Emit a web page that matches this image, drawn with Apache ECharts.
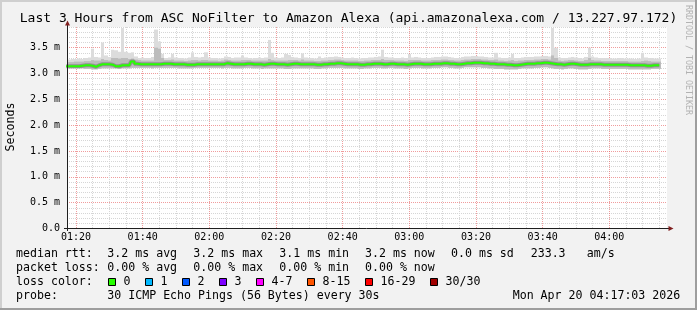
<!DOCTYPE html>
<html><head><meta charset="utf-8">
<script src="https://cdn.jsdelivr.net/npm/echarts@6/dist/echarts.min.js"></script>
<style>html,body{margin:0;padding:0;background:#f2f2f2}#c{width:697px;height:310px}</style>
</head><body><div id="c"></div><script>
// ---- data (one sample per minute, minutes after 01:00, first sample 01:17) ----
const START_MIN = 17, STEP_MIN = 1;
const median = [
3.14,3.14,3.14,3.14,3.14,3.15,3.16,3.16,3.15,3.13,
3.16,3.18,3.18,3.18,3.17,3.14,3.14,3.16,3.16,3.16,
3.23,3.19,3.18,3.18,3.18,3.18,3.18,3.18,3.18,3.19,
3.19,3.19,3.18,3.18,3.18,3.18,3.17,3.17,3.17,3.18,
3.18,3.18,3.18,3.18,3.18,3.18,3.18,3.18,3.20,3.19,
3.18,3.18,3.18,3.18,3.19,3.19,3.18,3.18,3.18,3.17,
3.18,3.19,3.19,3.18,3.18,3.18,3.17,3.18,3.19,3.19,
3.18,3.18,3.18,3.18,3.18,3.17,3.17,3.18,3.18,3.19,
3.19,3.20,3.20,3.19,3.18,3.18,3.18,3.18,3.17,3.17,
3.18,3.18,3.19,3.19,3.19,3.18,3.18,3.19,3.19,3.18,
3.18,3.18,3.17,3.18,3.19,3.19,3.19,3.18,3.18,3.18,
3.19,3.19,3.19,3.20,3.20,3.19,3.19,3.18,3.18,3.19,
3.20,3.20,3.21,3.21,3.21,3.20,3.20,3.19,3.19,3.18,
3.18,3.18,3.17,3.17,3.16,3.16,3.17,3.18,3.19,3.19,
3.19,3.20,3.20,3.21,3.21,3.20,3.19,3.18,3.18,3.17,
3.18,3.19,3.19,3.18,3.17,3.17,3.17,3.18,3.18,3.18,
3.18,3.17,3.17,3.17,3.17,3.17,3.17,3.17,3.17,3.16,
3.16,3.16,3.16,3.16,3.15,3.15,3.16,3.16,3.16];
const low = [
3.10,3.10,3.10,3.10,3.10,3.10,3.09,3.09,3.08,3.08,
3.09,3.10,3.10,3.10,3.10,3.10,3.09,3.10,3.10,3.10,
3.11,3.11,3.11,3.11,3.11,3.11,3.10,3.11,3.11,3.11,
3.11,3.11,3.11,3.11,3.10,3.10,3.10,3.10,3.10,3.11,
3.11,3.11,3.11,3.11,3.11,3.11,3.11,3.10,3.11,3.11,
3.10,3.10,3.10,3.10,3.11,3.11,3.10,3.10,3.10,3.09,
3.10,3.10,3.10,3.10,3.10,3.10,3.09,3.09,3.10,3.10,
3.10,3.10,3.10,3.10,3.10,3.09,3.09,3.10,3.10,3.11,
3.11,3.11,3.11,3.11,3.10,3.10,3.10,3.10,3.09,3.09,
3.10,3.10,3.11,3.11,3.11,3.10,3.10,3.11,3.11,3.10,
3.10,3.10,3.09,3.10,3.11,3.11,3.11,3.10,3.10,3.10,
3.11,3.11,3.11,3.12,3.12,3.11,3.11,3.10,3.10,3.11,
3.12,3.12,3.12,3.12,3.12,3.11,3.11,3.10,3.10,3.09,
3.09,3.09,3.08,3.08,3.08,3.08,3.09,3.10,3.10,3.10,
3.10,3.11,3.11,3.12,3.12,3.11,3.10,3.09,3.09,3.08,
3.09,3.10,3.10,3.09,3.08,3.08,3.08,3.09,3.10,3.10,
3.10,3.09,3.09,3.09,3.09,3.09,3.09,3.09,3.09,3.08,
3.08,3.08,3.08,3.08,3.08,3.08,3.09,3.09,3.09];
const high = [
3.22,3.22,3.22,3.23,3.23,3.23,3.24,3.24,3.26,3.25,
3.25,3.28,3.26,3.25,3.30,3.30,3.29,3.30,3.30,3.28,
3.29,3.27,3.26,3.25,3.25,3.25,3.25,3.50,3.48,3.30,
3.26,3.26,3.27,3.25,3.25,3.25,3.24,3.25,3.26,3.26,
3.25,3.26,3.26,3.25,3.25,3.25,3.24,3.25,3.27,3.26,
3.25,3.25,3.25,3.26,3.26,3.26,3.25,3.25,3.25,3.25,
3.25,3.28,3.26,3.25,3.25,3.25,3.25,3.26,3.26,3.26,
3.25,3.27,3.25,3.25,3.25,3.24,3.24,3.25,3.25,3.26,
3.26,3.27,3.27,3.26,3.25,3.25,3.25,3.25,3.24,3.24,
3.25,3.25,3.26,3.26,3.26,3.28,3.26,3.26,3.26,3.25,
3.25,3.25,3.24,3.26,3.26,3.26,3.26,3.25,3.25,3.25,
3.26,3.26,3.26,3.27,3.27,3.26,3.26,3.25,3.25,3.26,
3.27,3.27,3.28,3.28,3.28,3.27,3.27,3.26,3.26,3.27,
3.25,3.25,3.24,3.25,3.26,3.24,3.25,3.25,3.26,3.26,
3.26,3.27,3.27,3.28,3.28,3.27,3.35,3.30,3.25,3.24,
3.25,3.26,3.26,3.25,3.24,3.24,3.26,3.30,3.26,3.25,
3.25,3.24,3.24,3.24,3.24,3.24,3.24,3.24,3.24,3.23,
3.23,3.23,3.23,3.24,3.25,3.24,3.23,3.23,3.23];
const peak = [
3.27,3.27,3.28,3.28,3.29,3.28,3.30,3.31,3.48,3.32,
3.31,3.60,3.35,3.32,3.46,3.45,3.42,3.88,3.42,3.40,
3.41,3.33,3.30,3.31,3.30,3.30,3.32,3.85,3.62,3.38,
3.30,3.31,3.38,3.31,3.30,3.30,3.29,3.31,3.41,3.32,
3.31,3.32,3.41,3.31,3.30,3.30,3.29,3.30,3.33,3.32,
3.30,3.31,3.31,3.35,3.31,3.30,3.29,3.30,3.31,3.30,
3.31,3.65,3.40,3.31,3.30,3.31,3.38,3.36,3.32,3.31,
3.30,3.39,3.31,3.30,3.30,3.29,3.33,3.30,3.31,3.32,
3.32,3.33,3.32,3.31,3.30,3.30,3.31,3.30,3.29,3.30,
3.30,3.31,3.31,3.32,3.33,3.46,3.32,3.31,3.31,3.30,
3.30,3.31,3.30,3.38,3.31,3.32,3.31,3.30,3.30,3.30,
3.31,3.32,3.32,3.33,3.33,3.32,3.31,3.30,3.30,3.32,
3.33,3.33,3.34,3.34,3.33,3.33,3.32,3.31,3.31,3.40,
3.31,3.30,3.30,3.31,3.38,3.30,3.30,3.31,3.32,3.32,
3.32,3.33,3.33,3.34,3.34,3.33,3.88,3.50,3.31,3.30,
3.30,3.31,3.32,3.31,3.30,3.29,3.32,3.50,3.33,3.31,
3.30,3.30,3.30,3.30,3.29,3.29,3.30,3.30,3.29,3.29,
3.29,3.28,3.29,3.40,3.31,3.30,3.30,3.29,3.29];

const xTickValues = [20,40,60,80,100,120,140,160,180];
const xTickLabels = ['01:20','01:40','02:00','02:20','02:40','03:00','03:20','03:40','04:00'];
const yTickValues = [0,0.5,1,1.5,2,2.5,3,3.5];
const yTickLabels = ['0.0','0.5 m','1.0 m','1.5 m','2.0 m','2.5 m','3.0 m','3.5 m'];
const lossLabels = ['0','1','2','3','4-7','8-15','16-29','30/30'];
const lossColors = ['#26ff00','#00b8ff','#0059ff','#7e00ff','#ff00ff','#ff5500','#ff0000','#a10000'];
const rttStats = ['3.2 ms avg','3.2 ms max','3.1 ms min','3.2 ms now','0.0 ms sd','233.3','am/s'];
const lossStats = ['0.00 % avg','0.00 % max','0.00 % min','0.00 % now'];
const titleText = 'Last 3 Hours from ASC NoFilter to Amazon Alexa (api.amazonalexa.com / 13.227.97.172)';
const probeText = '30 ICMP Echo Pings (56 Bytes) every 30s';
const dateText = 'Mon Apr 20 04:17:03 2026';

// ---- layout ----
const X_MIN = 17.3, X_MAX = 197.3, Y_MIN = 0, Y_MAX = 3.9;
const MONO = 'DejaVu Sans Mono, monospace';
const xMinor = []; for (let m = 20; m <= 195; m += 5) if (m % 20 !== 0) xMinor.push(m);
const yMinor = []; for (let k = 1; k <= 39; k++) if (k % 5 !== 0) yMinor.push(k / 10);
const times = median.map((_, i) => START_MIN + i * STEP_MIN);

function band(loArr, hiArr, color, z) {
  return {
    type: 'custom', silent: true, z: z,
    data: times.map((t, i) => [t, loArr[i], hiArr[i]]),
    encode: { x: 0, y: [1, 2] },
    renderItem: (params, api) => {
      const t = api.value(0);
      const a = api.coord([t - STEP_MIN / 2, api.value(2)]);
      const b = api.coord([t + STEP_MIN / 2, api.value(1)]);
      const cs = params.coordSys;
      const x0 = Math.round(Math.max(a[0], cs.x));
      const x1 = Math.round(Math.min(b[0], cs.x + cs.width));
      return { type: 'rect', shape: { x: x0, y: a[1], width: x1 - x0, height: b[1] - a[1] },
               style: { fill: color } };
    }
  };
}

const fontL = '11.6px ' + MONO;
const graphics = [];
function txt(x, y, s, extra) {
  graphics.push(Object.assign({ type: 'text', x: x, y: y, silent: true,
    style: { text: s, font: fontL, fill: '#000', textAlign: 'left', textVerticalAlign: 'middle' } }, extra || {}));
}
// frame
graphics.push({ type: 'rect', shape: { x: 0, y: 0, width: 697, height: 2 }, style: { fill: '#cfcfcf' }, silent: true });
graphics.push({ type: 'rect', shape: { x: 0, y: 0, width: 2, height: 310 }, style: { fill: '#cfcfcf' }, silent: true });
graphics.push({ type: 'rect', shape: { x: 0, y: 308, width: 697, height: 2 }, style: { fill: '#9e9e9e' }, silent: true });
graphics.push({ type: 'rect', shape: { x: 695, y: 0, width: 2, height: 310 }, style: { fill: '#9e9e9e' }, silent: true });
// axis extensions and arrows
graphics.push({ type: 'line', shape: { x1: 67.5, y1: 231, x2: 67.5, y2: 24 }, style: { stroke: '#1f1f1f', lineWidth: 1 }, silent: true, z: 50 });
graphics.push({ type: 'line', shape: { x1: 64, y1: 228.5, x2: 669, y2: 228.5 }, style: { stroke: '#1f1f1f', lineWidth: 1 }, silent: true, z: 50 });
graphics.push({ type: 'polygon', shape: { points: [[65, 25.5], [67.5, 20.5], [70, 25.5]] }, style: { fill: '#801f1f' }, silent: true, z: 51 });
graphics.push({ type: 'polygon', shape: { points: [[668.5, 226], [673.5, 228.5], [668.5, 231]] }, style: { fill: '#801f1f' }, silent: true, z: 51 });
// watermark
graphics.push({ type: 'text', x: 688, y: 60, rotation: -Math.PI / 2, silent: true,
  style: { text: 'RRDTOOL / TOBI OETIKER', font: '8.3px ' + MONO, fill: '#b2b2b2', textAlign: 'center', textVerticalAlign: 'middle' } });
// y name
graphics.push({ type: 'text', x: 10.5, y: 127, rotation: Math.PI / 2, silent: true,
  style: { text: 'Seconds', font: fontL, fill: '#000', textAlign: 'center', textVerticalAlign: 'middle' } });
// legend lines
const rowY = [254.3, 268.3, 282, 296];
const rttX = [107.3, 193.3, 279.3, 365, 451, 530.7, 586.7];
txt(16, rowY[0], 'median rtt:');
rttStats.forEach((s, i) => txt(rttX[i], rowY[0], s));
txt(16, rowY[1], 'packet loss:');
lossStats.forEach((s, i) => txt(rttX[i], rowY[1], s));
txt(16, rowY[2], 'loss color:');
const boxX = [108.5, 145.5, 182.5, 219.5, 256.5, 307.5, 365.5, 430.5];
lossLabels.forEach((s, i) => {
  graphics.push({ type: 'rect', shape: { x: boxX[i], y: 278.5, width: 7, height: 7 },
    style: { fill: lossColors[i], stroke: '#000', lineWidth: 1 }, silent: true });
  txt(boxX[i] + 15, rowY[2], s);
});
txt(16, rowY[3], 'probe:');
txt(107.3, rowY[3], probeText);
txt(512.7, rowY[3], dateText);

const option = {
  animation: false,
  backgroundColor: '#f2f2f2',
  title: { text: titleText, left: 'center', top: 12, padding: 0,
    textStyle: { fontFamily: MONO, fontSize: 13, fontWeight: 'normal', color: '#000', lineHeight: 14 } },
  grid: { left: 67, top: 27, width: 600, height: 201.5, show: true, backgroundColor: '#ffffff', borderWidth: 0 },
  xAxis: [
    { type: 'value', min: X_MIN, max: X_MAX,
      axisLine: { show: false },
      axisTick: { show: false, customValues: xTickValues },
      axisLabel: { customValues: xTickValues, margin: 4, color: '#000', fontFamily: MONO, fontSize: 10,
        formatter: v => xTickLabels[xTickValues.indexOf(v)] || '' },
      splitLine: { show: true, z: 2, lineStyle: { color: 'rgba(230,90,90,0.6)', width: 1, type: [1, 1] } } },
    { type: 'value', min: X_MIN, max: X_MAX,
      axisLine: { show: false }, axisLabel: { show: false },
      axisTick: { show: false, customValues: xMinor },
      splitLine: { show: true, lineStyle: { color: '#d6d6d6', width: 1, type: [1, 1] } } }
  ],
  yAxis: [
    { type: 'value', min: Y_MIN, max: Y_MAX,
      axisLine: { show: false },
      axisTick: { show: false, customValues: yTickValues },
      axisLabel: { customValues: yTickValues, margin: 7, color: '#000', fontFamily: MONO, fontSize: 10,
        formatter: v => yTickLabels[yTickValues.indexOf(v)] || '' },
      splitLine: { show: true, lineStyle: { color: 'rgba(230,90,90,0.6)', width: 1, type: [1, 1] } } },
    { type: 'value', min: Y_MIN, max: Y_MAX,
      axisLine: { show: false }, axisLabel: { show: false },
      axisTick: { show: false, customValues: yMinor },
      splitLine: { show: true, lineStyle: { color: '#d6d6d6', width: 1, type: [1, 1] } } }
  ],
  series: [
    band(low, peak, '#dcdcdc', 2),
    band(low, high, '#bcbcbc', 3),
    { type: 'line', data: times.map((t, i) => [t, median[i]]), step: 'middle', showSymbol: false, silent: true, z: 4,
      lineStyle: { color: 'rgba(80,80,80,0.4)', width: 4 } },
    { type: 'line', data: times.map((t, i) => [t, median[i]]), step: 'middle', showSymbol: false, silent: true, z: 5,
      lineStyle: { color: '#26ff00', width: 2 } }
  ],
  graphic: { elements: graphics }
};
const chart = echarts.init(document.getElementById('c'), null, { renderer: 'canvas' });
chart.setOption(option);
</script></body></html>
